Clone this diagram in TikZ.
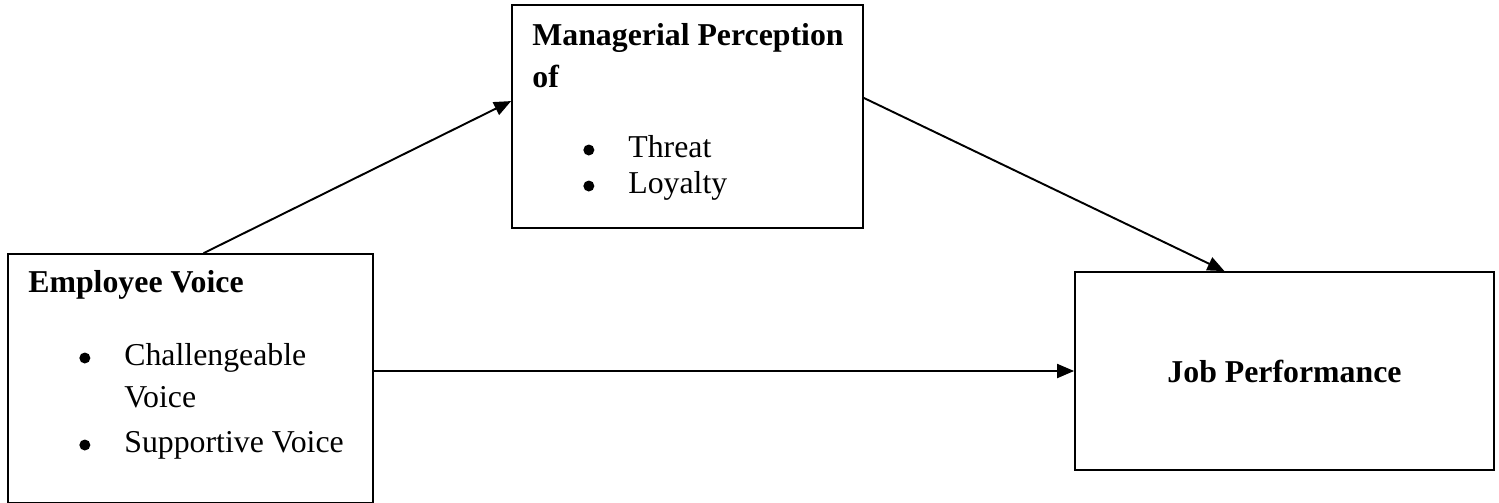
\documentclass[tikz,border=0pt]{standalone}
\usepackage{fontspec}
\setmainfont{Liberation Serif}
\usepackage{tikz}
\usetikzlibrary{arrows.meta,positioning}
\newcommand{\bigfont}{\fontsize{18.1}{22}\selectfont}
\tikzstyle{box} = [rectangle, draw=black, line width=1pt, inner sep=0pt]
\tikzstyle{arrow} = [line width=1.1pt,-{Triangle[length=0.34cm,width=0.28cm]}]
\tikzstyle{head} = [anchor=base west, inner sep=0pt, font=\bigfont\bfseries]
\tikzstyle{item} = [anchor=base west, inner sep=0pt, font=\bigfont]
\newcommand{\bul}{\makebox[0.92cm][l]{\hspace{0.02cm}\tikz[baseline=-0.14cm]\fill (0,0) circle (0.11cm);}}

\begin{document}
\begin{tikzpicture}
\useasboundingbox (0,0) rectangle (29.98,-10.04);

% Boxes
\node[box, minimum width=7.3cm, minimum height=4.97cm] (ev) at (3.81,-7.565) {};
\node[box, minimum width=7.02cm, minimum height=4.46cm] (mp) at (13.75,-2.33) {};
\node[box, minimum width=8.38cm, minimum height=3.96cm, font=\bigfont\bfseries] (jp) at (25.69,-7.42) {Job Performance};

% Employee voice
\node[head] (evt) at (0.56,-5.84) {Employee Voice};
\node[item] (ev1) at (1.56,-7.30) {\bul Challengeable};
\node[item] (ev1b) at (2.48,-8.14) {Voice};
\node[item] (ev2) at (1.56,-9.04) {\bul Supportive Voice};

% Managerial perception
\node[head] (mpt) at (10.64,-0.90) {Managerial Perception};
\node[head] (mpt2) at (10.64,-1.74) {of};
\node[item] (mp1) at (11.64,-3.14) {\bul Threat};
\node[item] (mp2) at (11.64,-3.86) {\bul Loyalty};

% Connections
\draw[arrow] (ev.84) -- (mp.175);
\draw[arrow] (mp.6) -- (jp.121);
\draw[arrow] (ev.east |- jp.west) -- (jp.west);
\end{tikzpicture}
\end{document}
